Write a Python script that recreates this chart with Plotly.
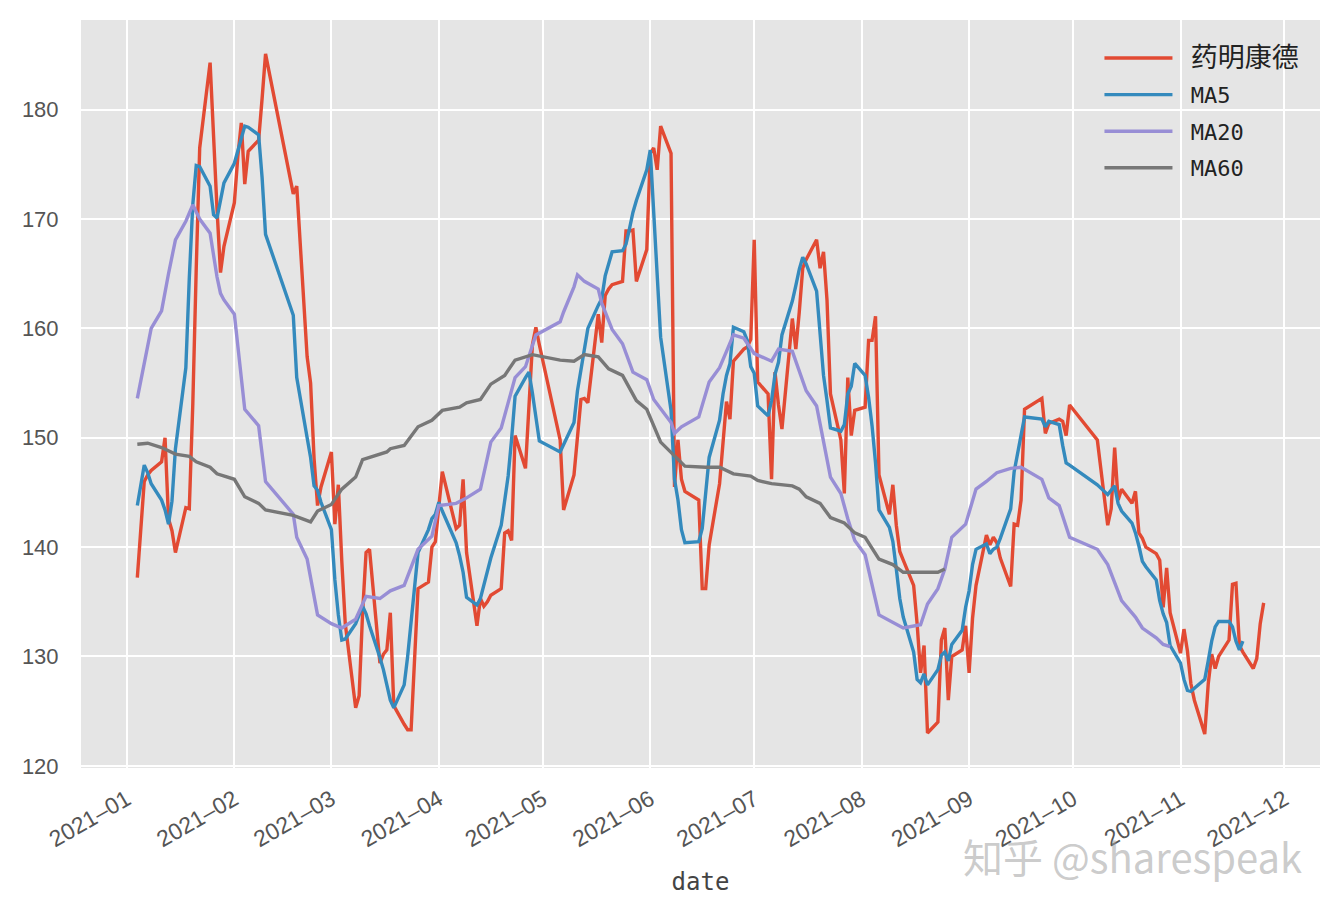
import plotly.graph_objects as go

# ---------------- data ----------------
trade_days = {
    "2021-01": [4, 5, 6, 7, 8, 11, 12, 13, 14, 15, 18, 19, 20, 21, 22, 25, 26, 27, 28, 29],
    "2021-02": [1, 2, 3, 4, 5, 8, 9, 10, 18, 19, 22, 23, 24, 25, 26],
    "2021-03": [1, 2, 3, 4, 5, 8, 9, 10, 11, 12, 15, 16, 17, 18, 19, 22, 23, 24, 25, 26, 29, 30, 31],
    "2021-04": [1, 2, 6, 7, 8, 9, 12, 13, 14, 15, 16, 19, 20, 21, 22, 23, 26, 27, 28, 29, 30],
    "2021-05": [6, 7, 10, 11, 12, 13, 14, 17, 18, 19, 20, 21, 24, 25, 26, 27, 28, 31],
    "2021-06": [1, 2, 3, 4, 7, 8, 9, 10, 11, 15, 16, 17, 18, 21, 22, 23, 24, 25, 28, 29, 30],
    "2021-07": [1, 2, 5, 6, 7, 8, 9, 12, 13, 14, 15, 16, 19, 20, 21, 22, 23, 26, 27, 28, 29, 30],
    "2021-08": [2, 3, 4, 5, 6, 9, 10, 11, 12, 13, 16, 17, 18, 19, 20, 23, 24, 25, 26, 27, 30, 31],
    "2021-09": [1, 2, 3, 6, 7, 8, 9, 10, 13, 14, 15, 16, 17, 22, 23, 24, 27, 28, 29, 30],
    "2021-10": [8, 11, 12, 13, 14, 15, 18, 19, 20, 21, 22, 25, 26, 27, 28, 29],
    "2021-11": [1, 2, 3, 4, 5, 8, 9, 10, 11, 12, 15, 16, 17, 18, 19, 22, 23, 24, 25],
}

close_jan = [137.2, 142.1, 146.0, 146.6, 147.0, 147.8, 150.0, 142.6, 141.5, 139.5,
             143.6, 143.5, 153.0, 165.5, 176.5, 184.3, 177.2, 170.9, 165.1, 167.5]
close_feb = [171.5, 175.7, 178.8, 173.2, 176.2, 177.2, 181.0, 185.1, 172.3, 173.0,
             157.4, 155.0, 148.1, 143.8, 145.5]
close_mar = [148.7, 142.1, 145.7, 138.7, 133.0, 125.3, 126.4, 134.0, 139.5, 139.8,
             129.4, 130.2, 130.6, 134.0, 125.5, 123.8, 123.3, 123.3, 130.5, 136.2,
             136.8, 140.0, 140.5]
close_apr = [143.8, 146.9, 141.7, 142.0, 146.2, 139.5, 132.8, 135.3, 134.6, 135.0,
             135.6, 136.2, 141.3, 141.5, 140.6, 150.2, 147.2, 153.0, 158.5, 160.1, 158.5]
close_may = [149.8, 143.4, 146.6, 150.0, 153.5, 153.6, 153.2, 161.3, 158.7, 163.0,
             163.6, 164.0, 164.3, 168.9, 168.9, 169.0, 164.3, 167.2]
close_jun = [176.0, 176.5, 174.5, 178.5, 176.0, 145.5, 149.8, 146.2, 145.1, 144.3,
             136.2, 136.2, 140.2, 145.8, 150.0, 153.3, 151.7, 157.0, 158.1, 158.3, 159.0]
close_jul = [168.1, 155.1, 154.0, 146.2, 156.0, 153.0, 150.8, 160.9, 158.1, 161.5,
             165.5, 166.3, 168.1, 165.5, 167.0, 162.6, 154.0, 149.8, 144.9, 155.5,
             150.2, 152.5]
close_aug = [152.8, 158.9, 158.9, 161.1, 146.6, 143.0, 145.7, 142.0, 139.6, 138.8,
             136.5, 133.0, 128.5, 131.0, 123.0, 124.0, 131.5, 132.6, 126.0, 130.0,
             130.6, 132.8]
close_sep = [128.5, 133.5, 136.5, 141.1, 140.2, 140.9, 140.4, 139.0, 136.4, 142.1,
             142.0, 144.3, 152.6, 153.6, 150.4, 151.3, 151.7, 151.5, 150.2, 153.0]
close_oct = [149.8, 142.0, 143.5, 149.1, 144.3, 145.3, 144.0, 145.1, 141.3, 140.8,
             140.0, 139.4, 138.8, 134.5, 138.1, 134.0]
close_nov = [130.3, 132.5, 130.5, 127.5, 126.0, 122.9, 127.5, 130.2, 128.9, 130.0,
             131.5, 136.6, 136.7, 131.0, 130.4, 128.9, 129.8, 133.0, 134.9]

# MA5 line, one value per trading day from 2021-01-04 to 2021-11-19
ma5_values = [
    143.8, 145.9, 147.5, 146.8, 145.8, 144.3, 143.4, 142.1, 144.2, 149.0,
    156.4, 164.6, 171.3, 174.9, 174.8, 173.0, 170.4, 170.1, 171.7, 173.3,
    175.1, 176.2, 177.3, 178.5, 178.4, 177.7, 173.8, 168.6, 161.2, 155.5,
    150.0, 148.2, 145.6, 145.2, 144.1, 141.6, 137.0, 133.8, 131.5, 131.6,
    133.0, 133.8, 134.6, 133.9, 132.8, 129.9, 128.8, 127.4, 126.0, 125.3,
    127.4, 130.0, 133.4, 136.8, 139.5, 141.6, 142.6, 143.0, 144.1, 143.3,
    140.4, 139.2, 137.7, 135.4, 134.7, 135.3, 136.5, 137.9, 139.0, 142.0,
    144.2, 146.5, 149.9, 153.8, 155.5, 156.0, 154.1, 151.7, 149.7, 148.7,
    149.4, 151.4, 154.3, 156.1, 158.0, 160.0, 162.1, 162.7, 164.8, 165.9,
    167.0, 167.1, 167.7, 169.1, 170.6, 171.7, 174.5, 176.3, 170.2, 164.9,
    159.2, 152.5, 146.2, 144.3, 141.6, 140.4, 140.5, 141.7, 145.1, 148.2,
    151.6, 154.0, 155.7, 156.8, 160.1, 159.7, 158.9, 156.5, 155.9, 152.9,
    152.0, 153.4, 155.8, 156.9, 159.4, 162.5, 163.9, 165.4, 166.5, 165.9,
    163.4, 159.8, 155.7, 153.4, 150.9, 150.6, 151.2, 154.0, 154.7, 156.8,
    155.7, 153.7, 151.1, 147.7, 143.4, 141.8, 140.5, 138.0, 135.3, 133.6,
    130.4, 127.9, 127.6, 128.4, 127.4, 128.8, 130.1, 130.4, 129.6, 131.1,
    132.4, 134.5, 136.0, 138.4, 139.8, 140.3, 139.4, 139.8, 140.0, 140.8,
    143.5, 146.9, 148.6, 150.4, 151.9, 151.7, 151.0, 151.5, 151.2, 149.3,
    147.7, 147.5, 145.7, 144.8, 145.2, 145.6, 144.0, 143.3, 142.2, 141.3,
    140.1, 138.7, 138.2, 137.0, 135.1, 133.9, 133.1, 131.0, 129.4, 127.9,
    126.9, 126.8, 127.1, 127.9, 129.6, 131.4, 132.7, 133.2, 133.2, 132.7,
    131.4, 130.6, 131.4,
]

ma20_dates = [
    "2021-01-04", "2021-01-08", "2021-01-11", "2021-01-12", "2021-01-13", "2021-01-15",
    "2021-01-18", "2021-01-20", "2021-01-22", "2021-01-25", "2021-01-27", "2021-01-28",
    "2021-01-29", "2021-02-01", "2021-02-03", "2021-02-04", "2021-02-08", "2021-02-10",
    "2021-02-18", "2021-02-19", "2021-02-22", "2021-02-25", "2021-03-01", "2021-03-04",
    "2021-03-08", "2021-03-11", "2021-03-15", "2021-03-18", "2021-03-22", "2021-03-26",
    "2021-03-30", "2021-04-01", "2021-04-06", "2021-04-09", "2021-04-13", "2021-04-16",
    "2021-04-19", "2021-04-23", "2021-04-26", "2021-04-29", "2021-05-06", "2021-05-07",
    "2021-05-10", "2021-05-11", "2021-05-13", "2021-05-17", "2021-05-18", "2021-05-21",
    "2021-05-24", "2021-05-27", "2021-05-31", "2021-06-02", "2021-06-07", "2021-06-08",
    "2021-06-10", "2021-06-15", "2021-06-18", "2021-06-21", "2021-06-23", "2021-06-25",
    "2021-06-28", "2021-07-01", "2021-07-06", "2021-07-08", "2021-07-12", "2021-07-14",
    "2021-07-16", "2021-07-19", "2021-07-23", "2021-07-26", "2021-07-28", "2021-07-30",
    "2021-08-02", "2021-08-06", "2021-08-13", "2021-08-18", "2021-08-20", "2021-08-23",
    "2021-08-25", "2021-08-27", "2021-08-31", "2021-09-03", "2021-09-06", "2021-09-09",
    "2021-09-13", "2021-09-16", "2021-09-22", "2021-09-24", "2021-09-27", "2021-09-30",
    "2021-10-08", "2021-10-11", "2021-10-15", "2021-10-19", "2021-10-21", "2021-10-25",
    "2021-10-27", "2021-10-29",
]
ma20_values = [
    153.6, 160.0, 161.6, 163.5, 165.0, 168.1,
    169.8, 171.3, 170.0, 168.7, 164.7, 163.2,
    162.6, 161.3, 155.5, 152.6, 151.1, 146.0,
    143.0, 140.9, 138.9, 133.8, 133.0, 132.6,
    133.4, 135.5, 135.3, 136.0, 136.5, 139.8,
    141.0, 143.8, 144.0, 144.5, 145.3, 149.6,
    150.9, 155.5, 156.5, 159.4, 160.6, 161.5,
    163.8, 164.9, 164.3, 163.6, 162.3, 159.9,
    158.6, 156.0, 155.3, 153.5, 151.4, 150.4,
    151.0, 151.9, 155.1, 156.4, 157.9, 159.4,
    159.1, 157.7, 157.0, 158.1, 157.9, 156.2,
    154.3, 152.9, 146.4, 144.9, 142.6, 140.6,
    139.3, 133.8, 132.6, 132.9, 134.8, 136.2,
    138.0, 140.9, 142.1, 145.3, 146.0, 146.8,
    147.2, 147.3, 146.2, 144.5, 143.8, 140.9,
    139.8, 138.4, 135.1, 133.6, 132.6, 131.7,
    131.1, 130.9,
]

ma60_dates = [
    "2021-01-04", "2021-01-07", "2021-01-11", "2021-01-13", "2021-01-15", "2021-01-19",
    "2021-01-21", "2021-01-25", "2021-01-27", "2021-02-01", "2021-02-04", "2021-02-08",
    "2021-02-10", "2021-02-18", "2021-02-23", "2021-02-25", "2021-03-01", "2021-03-04",
    "2021-03-08", "2021-03-10", "2021-03-17", "2021-03-18", "2021-03-22", "2021-03-26",
    "2021-03-30", "2021-04-02", "2021-04-07", "2021-04-09", "2021-04-13", "2021-04-16",
    "2021-04-20", "2021-04-23", "2021-04-28", "2021-05-06", "2021-05-10", "2021-05-13",
    "2021-05-17", "2021-05-20", "2021-05-24", "2021-05-28", "2021-05-31", "2021-06-04",
    "2021-06-08", "2021-06-11", "2021-06-17", "2021-06-21", "2021-06-25", "2021-06-30",
    "2021-07-02", "2021-07-06", "2021-07-12", "2021-07-14", "2021-07-16", "2021-07-20",
    "2021-07-23", "2021-07-27", "2021-07-30", "2021-08-02", "2021-08-06", "2021-08-10",
    "2021-08-13", "2021-08-18", "2021-08-23", "2021-08-25",
]
ma60_values = [
    149.4, 149.5, 149.1, 148.8, 148.5, 148.3,
    147.8, 147.3, 146.7, 146.2, 144.6, 144.0,
    143.4, 142.9, 142.3, 143.3, 143.9, 145.3,
    146.4, 148.0, 148.7, 149.0, 149.3, 151.0,
    151.6, 152.5, 152.8, 153.2, 153.5, 154.9,
    155.7, 157.1, 157.6, 157.1, 157.0, 157.6,
    157.4, 156.3, 155.7, 153.4, 152.6, 149.6,
    148.3, 147.4, 147.3, 147.3, 146.7, 146.5,
    146.1, 145.8, 145.6, 145.3, 144.6, 144.0,
    142.7, 142.2, 141.3, 140.9, 138.9, 138.4,
    137.7, 137.7, 137.7, 138.0,
]

series_names = ["药明康德", "MA5", "MA20", "MA60"]
series_colors = ["#E24A33", "#348ABD", "#988ED5", "#777777"]
month_ticks = ["2021-%02d-01" % m for m in range(1, 13)]
y_ticks = [120, 130, 140, 150, 160, 170, 180]

# ---------------- build ----------------
close_dates = [f"{m}-{d:02d}" for m, days in trade_days.items() for d in days]
close_values = (close_jan + close_feb + close_mar + close_apr + close_may + close_jun
                + close_jul + close_aug + close_sep + close_oct + close_nov)
ma5_dates = close_dates[:len(ma5_values)]

xy = [
    (close_dates, close_values),
    (ma5_dates, ma5_values),
    (ma20_dates, ma20_values),
    (ma60_dates, ma60_values),
]


def legend_label(name):
    # CJK name is drawn slightly larger, like the reference's font
    if any(ord(c) > 0x2E80 for c in name):
        return "\u00a0<span style='font-size:27px'>%s</span>" % name
    return "\u00a0" + name


fig = go.Figure()
for i, ((xs, ys), name, color) in enumerate(zip(xy, series_names, series_colors)):
    fig.add_trace(go.Scatter(
        x=xs, y=ys, mode="lines", name=legend_label(name), legendgroup="g%d" % i,
        line=dict(color=color, width=3.4),
    ))

y_tick_font = dict(family="Liberation Sans, Arial, sans-serif", size=22, color="#555555")
x_tick_font = dict(family="Liberation Sans, Arial, sans-serif", size=23, color="#555555")

# the page body adds an 8px offset; margins compensate so the plot area
# sits at x 81..1320, y 20..768 in the screenshot
fig.update_layout(
    width=1341, height=914,
    margin=dict(l=73, r=29, t=12, b=154),
    paper_bgcolor="white",
    plot_bgcolor="#E5E5E5",
    showlegend=True,
    legend=dict(
        x=0.822, y=0.977, xanchor="left", yanchor="top",
        bgcolor="rgba(0,0,0,0)",
        font=dict(family="DejaVu Sans Mono, Noto Sans CJK SC", size=22, color="#222222"),
        tracegroupgap=5,
        itemwidth=68,
    ),
    xaxis=dict(
        type="date",
        range=["2020-12-18 18:00", "2021-12-11 06:00"],
        tickvals=month_ticks,
        tickformat="%Y\u2013%m",
        tickangle=-30,
        tickfont=x_tick_font,
        ticks="outside", ticklen=8, tickcolor="rgba(0,0,0,0)",
        showgrid=True, gridcolor="white", gridwidth=2,
        zeroline=False, showline=False,
        title=dict(text="date", standoff=22,
                   font=dict(family="DejaVu Sans Mono, Noto Sans CJK SC", size=24, color="#444444")),
    ),
    yaxis=dict(
        range=[119.8, 188.2],
        tickvals=y_ticks,
        tickfont=y_tick_font,
        ticks="outside", ticklen=17, tickcolor="rgba(0,0,0,0)",
        showgrid=True, gridcolor="white", gridwidth=2,
        zeroline=False, showline=False,
    ),
    annotations=[dict(
        text="知乎 @sharespeak", xref="paper", yref="paper",
        x=0.849, y=-0.117, xanchor="center", yanchor="middle", showarrow=False,
        font=dict(family="Noto Sans CJK SC", size=40, color="rgba(160,160,160,0.55)"),
    )],
)

fig.write_html("out.html")
